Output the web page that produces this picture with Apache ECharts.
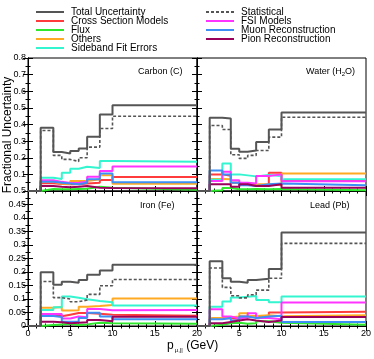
<!DOCTYPE html>
<html>
<head>
<meta charset="utf-8">
<script src="https://cdn.jsdelivr.net/npm/echarts@6/dist/echarts.min.js"></script>
<style>
  html, body { margin: 0; padding: 0; background: #fff; }
  #chart { width: 374px; height: 359px; }
</style>
</head>
<body>
<div id="chart"></div>
<script>
// bin edges of p_mu,|| (GeV); first bin [0,1.5] is empty
const binEdges = [0, 1.5, 3, 4, 5, 6, 7, 8.5, 10, 20]

const panelNames = ['Carbon (C)', 'Water (H2O)', 'Iron (Fe)', 'Lead (Pb)']

// Carbon
const carbonTotal    = [0, 0.38, 0.234, 0.226, 0.24, 0.256, 0.326, 0.46, 0.516]
const carbonStat     = [0, 0.364, 0.214, 0.19, 0.178, 0.2, 0.264, 0.376, 0.45]
const carbonXsec     = [0, 0.047, 0.042, 0.04, 0.04, 0.045, 0.05, 0.066, 0.084]
const carbonFlux     = [0, 0.012, 0.01, 0.01, 0.012, 0.014, 0.025, 0.02, 0.008]
const carbonOthers   = [0, 0.056, 0.044, 0.042, 0.06, 0.06, 0.07, 0.094, 0.044]
const carbonSideband = [0, 0.08, 0.072, 0.11, 0.134, 0.146, 0.138, 0.18, 0.176]
const carbonFsi      = [0, 0.065, 0.055, 0.048, 0.05, 0.055, 0.085, 0.12, 0.148]
const carbonMuon     = [0, 0.055, 0.05, 0.045, 0.04, 0.05, 0.07, 0.105, 0.052]
const carbonPion     = [0, 0.03, 0.025, 0.022, 0.025, 0.03, 0.02, 0.018, 0.016]

// Water
const waterTotal    = [0, 0.44, 0.436, 0.254, 0.236, 0.244, 0.294, 0.37, 0.472]
const waterStat     = [0, 0.394, 0.37, 0.218, 0.196, 0.214, 0.244, 0.324, 0.444]
const waterXsec     = [0, 0.1, 0.092, 0.05, 0.042, 0.038, 0.036, 0.11, 0.066]
const waterFlux     = [0, 0.005, 0.018, 0.01, 0.01, 0.012, 0.01, 0.012, 0.004]
const waterOthers   = [0, 0.072, 0.07, 0.05, 0.042, 0.04, 0.04, 0.035, 0.106]
const waterSideband = [0, 0.068, 0.166, 0.1, 0.094, 0.088, 0.096, 0.09, 0.07]
const waterFsi      = [0, 0.06, 0.116, 0.064, 0.05, 0.045, 0.09, 0.1, 0.058]
const waterMuon     = [0, 0.124, 0.1, 0.05, 0.035, 0.03, 0.04, 0.045, 0.035]
const waterPion     = [0, 0.04, 0.04, 0.026, 0.04, 0.03, 0.03, 0.04, 0.02]

// Iron
const ironTotal    = [0, 0.199, 0.153, 0.164, 0.16, 0.17, 0.19, 0.206, 0.227]
const ironStat     = [0, 0.165, 0.105, 0.1, 0.09, 0.096, 0.117, 0.149, 0.172]
const ironXsec     = [0, 0.043, 0.036, 0.042, 0.048, 0.048, 0.045, 0.042, 0.038]
const ironFlux     = [0, 0.004, 0.006, 0.008, 0.004, 0.006, 0.012, 0.01, 0.008]
const ironOthers   = [0, 0.068, 0.07, 0.057, 0.058, 0.071, 0.074, 0.078, 0.102]
const ironSideband = [0, 0.059, 0.069, 0.109, 0.105, 0.099, 0.093, 0.088, 0.076]
const ironFsi      = [0, 0.044, 0.044, 0.028, 0.035, 0.032, 0.063, 0.058, 0.059]
const ironMuon     = [0, 0.037, 0.033, 0.016, 0.016, 0.03, 0.049, 0.035, 0.025]
const ironPion     = [0, 0.016, 0.014, 0.01, 0.012, 0.014, 0.022, 0.018, 0.034]

// Lead
const leadTotal    = [0, 0.24, 0.177, 0.164, 0.16, 0.17, 0.175, 0.211, 0.346]
const leadStat     = [0, 0.215, 0.143, 0.112, 0.104, 0.116, 0.133, 0.177, 0.306]
const leadXsec     = [0, 0.028, 0.03, 0.025, 0.035, 0.035, 0.03, 0.05, 0.053]
const leadFlux     = [0, 0.005, 0.01, 0.012, 0.008, 0.01, 0.018, 0.012, 0.005]
const leadOthers   = [0, 0.03, 0.032, 0.035, 0.047, 0.037, 0.04, 0.036, 0.04]
const leadSideband = [0, 0.071, 0.091, 0.106, 0.108, 0.111, 0.096, 0.088, 0.109]
const leadFsi      = [0, 0.062, 0.035, 0.028, 0.032, 0.047, 0.03, 0.025, 0.087]
const leadMuon     = [0, 0.025, 0.03, 0.02, 0.035, 0.03, 0.035, 0.038, 0.015]
const leadPion     = [0, 0.01, 0.015, 0.02, 0.025, 0.02, 0.015, 0.02, 0.033]

// y tick setup per row
const yMaxTop = 0.8
const yStepTop = 0.1
const yMaxBottom = 0.5
const yStepBottom = 0.05

// sources: name, colour, dashed?
const sources = [
  { name: 'Cross Section Models', color: '#ff3b3b', key: 'Xsec' },
  { name: 'Flux', color: '#2ee82e', key: 'Flux' },
  { name: 'Others', color: '#ffaa22', key: 'Others' },
  { name: 'Sideband Fit Errors', color: '#33f5d0', key: 'Sideband' },
  { name: 'FSI Models', color: '#ff33ff', key: 'Fsi' },
  { name: 'Muon Reconstruction', color: '#3d8ff5', key: 'Muon' },
  { name: 'Pion Reconstruction', color: '#99005c', key: 'Pion' },
  { name: 'Statistical', color: '#555555', key: 'Stat', dashed: true },
  { name: 'Total Uncertainty', color: '#555555', key: 'Total' }
]

const panelData = [
  { Total: carbonTotal, Stat: carbonStat, Xsec: carbonXsec, Flux: carbonFlux, Others: carbonOthers, Sideband: carbonSideband, Fsi: carbonFsi, Muon: carbonMuon, Pion: carbonPion },
  { Total: waterTotal, Stat: waterStat, Xsec: waterXsec, Flux: waterFlux, Others: waterOthers, Sideband: waterSideband, Fsi: waterFsi, Muon: waterMuon, Pion: waterPion },
  { Total: ironTotal, Stat: ironStat, Xsec: ironXsec, Flux: ironFlux, Others: ironOthers, Sideband: ironSideband, Fsi: ironFsi, Muon: ironMuon, Pion: ironPion },
  { Total: leadTotal, Stat: leadStat, Xsec: leadXsec, Flux: leadFlux, Others: leadOthers, Sideband: leadSideband, Fsi: leadFsi, Muon: leadMuon, Pion: leadPion }
]

const FONT = 'Liberation Sans, Arial, Helvetica, sans-serif'

// histogram -> step points (left edges + last right edge)
const toSteps = (vals) => {
  const pts = vals.map((v, i) => [binEdges[i], v])
  pts.push([binEdges[binEdges.length - 1], vals[vals.length - 1]])
  return pts
}

const grids = [
  { left: 28, top: 58, width: 169, height: 133 },
  { left: 197, top: 58, width: 169, height: 133 },
  { left: 28, top: 191, width: 169, height: 135 },
  { left: 197, top: 191, width: 169, height: 135 }
].map(g => ({ ...g, show: true, borderColor: '#000', borderWidth: 1, backgroundColor: '#fff' }))

const xAxes = []
const yAxes = []
for (let side = 0; side < 2; side++) {
  for (let i = 0; i < 4; i++) {
    const isBottomRow = i >= 2
    const isLeft = i % 2 === 0
    const main = side === 0
    xAxes.push({
      type: 'value',
      gridIndex: i,
      position: main ? 'bottom' : 'top',
      min: 0,
      max: 20,
      interval: 5,
      axisLine: { show: true, lineStyle: { color: '#000', width: 1 } },
      axisTick: { show: true, inside: true, length: 5, lineStyle: { color: '#000' } },
      minorTick: { show: true, splitNumber: 5, length: 2.5, lineStyle: { color: '#000' } },
      splitLine: { show: false },
      axisLabel: {
        show: main && isBottomRow,
        fontSize: 9,
        fontFamily: FONT,
        color: '#000',
        margin: 3,
        formatter: (v) => (!isLeft && v === 0 ? '' : String(v))
      }
    })
    const yMax = isBottomRow ? yMaxBottom : yMaxTop
    const yStep = isBottomRow ? yStepBottom : yStepTop
    yAxes.push({
      type: 'value',
      gridIndex: i,
      position: main ? 'left' : 'right',
      min: 0,
      max: yMax,
      interval: yStep,
      axisLine: { show: true, lineStyle: { color: '#000', width: 1 } },
      axisTick: { show: true, inside: true, length: 5, lineStyle: { color: '#000' } },
      minorTick: { show: true, splitNumber: 2, length: 2.5, lineStyle: { color: '#000' } },
      splitLine: { show: false },
      axisLabel: {
        show: main && isLeft,
        fontSize: 9,
        fontFamily: FONT,
        color: '#000',
        margin: 2,
        formatter: (v) => {
          if (!isBottomRow && v === 0) return ''
          return String(+v.toFixed(2))
        }
      }
    })
  }
}

const series = []
panelData.forEach((pd, i) => {
  sources.forEach(src => {
    series.push({
      name: src.name,
      type: 'line',
      xAxisIndex: i,
      yAxisIndex: i,
      step: 'end',
      symbol: 'none',
      silent: true,
      z: src.key === 'Total' ? 5 : (src.key === 'Stat' ? 4 : 3),
      lineStyle: {
        color: src.color,
        width: src.dashed ? 1.6 : 2,
        type: src.dashed ? [3, 2] : 'solid'
      },
      itemStyle: { color: src.color },
      data: toSteps(pd[src.key])
    })
  })
})

const legendBase = {
  orient: 'vertical',
  top: 7,
  padding: 0,
  itemWidth: 28,
  itemHeight: 9,
  itemGap: -1,
  selectedMode: false,
  itemStyle: { opacity: 0 },
  textStyle: { fontSize: 10, fontFamily: FONT, color: '#000', lineHeight: 9, padding: [0, 0, 0, 2] }
}

const sub = { fontSize: 6, fontFamily: FONT, color: '#000', padding: [6, 0, 0, 0] }

const option = {
  animation: false,
  backgroundColor: '#fff',
  grid: grids,
  xAxis: xAxes,
  yAxis: yAxes,
  legend: [
    { ...legendBase, left: 35, data: ['Total Uncertainty', 'Cross Section Models', 'Flux', 'Others', 'Sideband Fit Errors'] },
    { ...legendBase, left: 205, data: ['Statistical', 'FSI Models', 'Muon Reconstruction', 'Pion Reconstruction'] }
  ],
  graphic: [
    { type: 'text', left: 138, top: 67, z: 100, style: { text: panelNames[0], font: '9px ' + FONT, fill: '#000' } },
    {
      type: 'text', left: 306, top: 67, z: 100,
      style: {
        text: '{t|Water (H}{s|2}{t|O)}',
        rich: { t: { fontSize: 9, fontFamily: FONT, color: '#000' }, s: sub }
      }
    },
    { type: 'text', left: 140, top: 201, z: 100, style: { text: panelNames[2], font: '9px ' + FONT, fill: '#000' } },
    { type: 'text', left: 310, top: 201, z: 100, style: { text: panelNames[3], font: '9px ' + FONT, fill: '#000' } },
    {
      type: 'text', x: 8, y: 135, rotation: Math.PI / 2, z: 100,
      style: { text: 'Fractional Uncertainty', font: '12px ' + FONT, fill: '#000', align: 'center', verticalAlign: 'middle' }
    },
    {
      type: 'text', left: 167, top: 340, z: 100,
      style: {
        text: '{t|p}{s|μ,||}{t| (GeV)}',
        rich: {
          t: { fontSize: 12, fontFamily: FONT, color: '#000' },
          s: { fontSize: 6, fontFamily: FONT, color: '#000', padding: [9, 0, 0, 1] }
        }
      }
    }
  ],
  series
}

const chartInstance = echarts.init(document.getElementById('chart'), null, { renderer: 'canvas' })
chartInstance.setOption(option)
</script>
</body>
</html>
